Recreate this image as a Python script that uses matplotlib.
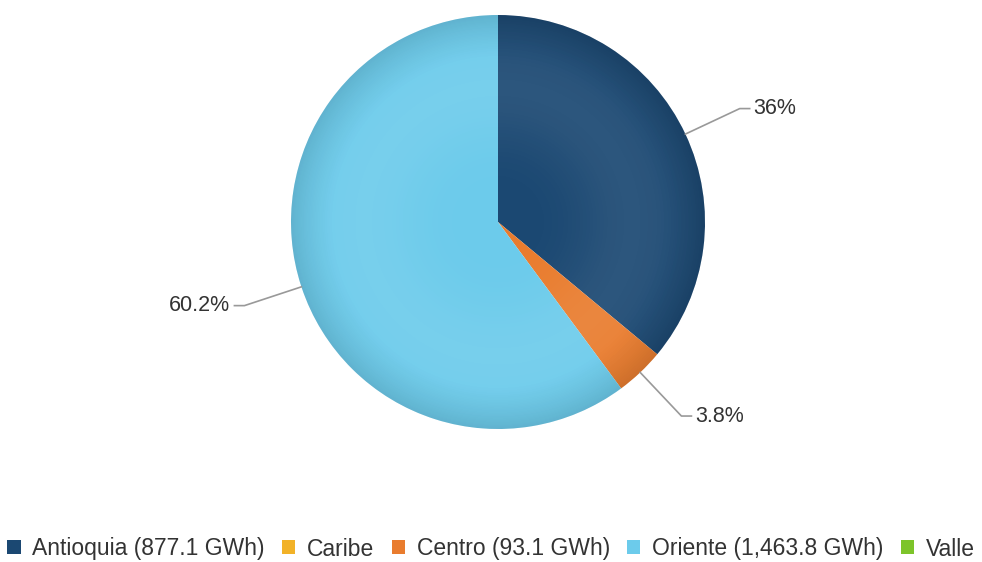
import matplotlib
matplotlib.use("Agg")
import matplotlib.pyplot as plt
import numpy as np
from matplotlib.patches import Patch, Circle

categories = ["Antioquia", "Caribe", "Centro", "Oriente", "Valle"]
values = [877.1, 0.0, 93.1, 1463.8, 0.0]
legend_labels = ["Antioquia (877.1 GWh)", "Caribe", "Centro (93.1 GWh)",
                 "Oriente (1,463.8 GWh)", "Valle"]
pct_labels = ["36%", "", "3.8%", "60.2%", ""]
colors = ["#1b4872", "#f2b228", "#e97c2e", "#6ccbeb", "#7dc42a"]

plt.rcParams['font.family'] = ['Liberation Sans', 'DejaVu Sans']

W, H = 982, 562
fig = plt.figure(figsize=(W / 100, H / 100), dpi=100)
ax = fig.add_axes([0, 0, 1, 1])

cx, cy, R = 498, H - 222, 207
wedges, _ = ax.pie(values, colors=colors, startangle=90, counterclock=False,
                   center=(cx, cy), radius=R, frame=True,
                   wedgeprops=dict(linewidth=0))
ax.set_xlim(0, W)
ax.set_ylim(0, H)
ax.set_aspect('equal')
ax.axis('off')

# subtle bevel shading overlay
n = 600
xs = np.linspace(cx - R, cx + R, n)
ys = np.linspace(cy - R, cy + R, n)
X, Y = np.meshgrid(xs, ys)
rr = np.hypot(X - cx, Y - cy) / R
white = np.zeros((n, n, 4))
white[..., :3] = 1.0
white[..., 3] = 0.08 * np.exp(-((rr - 0.65) / 0.28) ** 2)
dark = np.zeros((n, n, 4))
dark[..., 3] = np.clip((rr - 0.78) / 0.22, 0, 1) ** 1.5 * 0.12
for img in (white, dark):
    im = ax.imshow(img, extent=(cx - R, cx + R, cy - R, cy + R), origin='lower',
                   interpolation='bilinear', zorder=3)
    im.set_clip_path(Circle((cx, cy), R, transform=ax.transData))

for w, lab in zip(wedges, pct_labels):
    if not lab:
        continue
    mid = np.deg2rad((w.theta1 + w.theta2) / 2)
    x0, y0 = cx + R * np.cos(mid), cy + R * np.sin(mid)
    x1, y1 = cx + (R + 60) * np.cos(mid), cy + (R + 60) * np.sin(mid)
    side = 1 if np.cos(mid) >= 0 else -1
    x2 = x1 + side * 10
    ax.plot([x0, x1, x2], [y0, y1, y1], color="#999999", lw=1.2, zorder=4)
    ax.text(x2 + side * 4, y1, lab, ha='left' if side > 0 else 'right',
            va='center', fontsize=15.5, color="#333333", zorder=5)

handles = [Patch(facecolor=c, edgecolor='none') for c in colors]
fig.legend(handles, legend_labels, loc='center', ncol=5,
           bbox_to_anchor=(0.5, (H - 549) / H), frameon=False, fontsize=16.5,
           handlelength=0.57, handleheight=0.57, handletextpad=0.52,
           columnspacing=0.75, labelcolor="#333333", borderpad=0)

fig.savefig("out.png", dpi=100)
